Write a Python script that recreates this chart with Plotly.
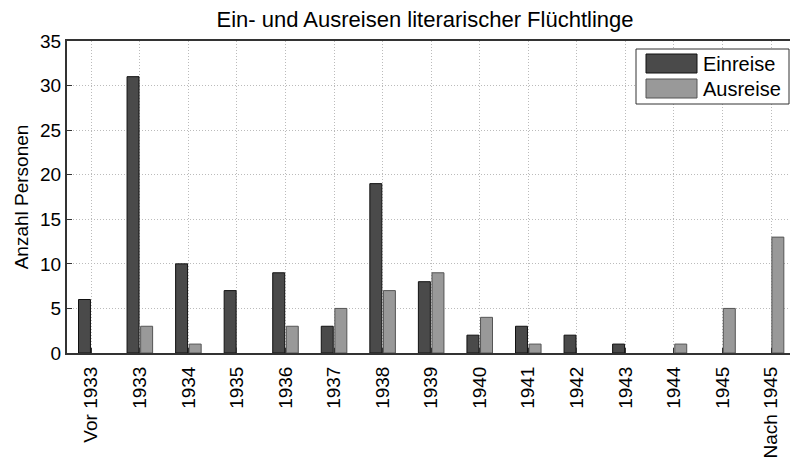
import plotly.graph_objects as go

categories = ["Vor 1933", "1933", "1934", "1935", "1936", "1937", "1938", "1939",
              "1940", "1941", "1942", "1943", "1944", "1945", "Nach 1945"]
einreise = [6, 31, 10, 7, 9, 3, 19, 8, 2, 3, 2, 1, 0, 0, 0]
ausreise = [0, 3, 1, 0, 3, 5, 7, 9, 4, 1, 0, 0, 1, 5, 13]
series_names = ["Einreise", "Ausreise"]
y_ticks = [0, 5, 10, 15, 20, 25, 30, 35]

FONT = "Liberation Sans, Arial, sans-serif"
C_EIN = "#4a4a4a"
C_AUS = "#999999"

def nz(vals):
    return [v if v else None for v in vals]

fig = go.Figure()
fig.add_trace(go.Bar(x=categories, y=nz(einreise), name=series_names[0],
                     marker=dict(color=C_EIN, line=dict(color="#111111", width=1))))
fig.add_trace(go.Bar(x=categories, y=nz(ausreise), name=series_names[1],
                     marker=dict(color=C_AUS, line=dict(color="#555555", width=1))))

fig.update_layout(
    width=790, height=460,
    margin=dict(l=67, r=0, t=41, b=107, autoexpand=False),
    paper_bgcolor="white", plot_bgcolor="white",
    barmode="group", bargap=0.44, bargroupgap=0.12,
    showlegend=False,
    font=dict(family=FONT, size=19, color="black"),
    title=dict(text="Ein- und Ausreisen literarischer Flüchtlinge",
               x=425 / 790, xanchor="center", y=1 - 19 / 460, yanchor="middle",
               font=dict(family=FONT, size=22, color="black"), automargin=False),
)

fig.update_xaxes(
    type="category", range=[-0.5, 14.39], automargin=False,
    tickangle=-90, tickfont=dict(family=FONT, size=19, color="black"),
    ticklabelstandoff=4,
    showgrid=True, gridcolor="#bbbbbb", griddash="1px,2px", gridwidth=1,
    showline=True, linecolor="#333333", linewidth=2, mirror=True,
    ticks="inside", ticklen=5, tickcolor="#333333",
)
fig.update_yaxes(
    range=[0, 35], tickvals=y_ticks, automargin=False,
    tickfont=dict(family=FONT, size=19, color="black"),
    title=dict(text="Anzahl Personen", font=dict(family=FONT, size=19, color="black"), standoff=6),
    showgrid=True, gridcolor="#bbbbbb", griddash="1px,2px", gridwidth=1,
    showline=True, linecolor="#333333", linewidth=2, mirror=True,
    ticks="inside", ticklen=5, tickcolor="#333333", zeroline=False,
)

# custom legend (MATLAB style with large swatches)
fig.add_shape(type="rect", xref="paper", yref="paper",
              x0=(636 - 67) / 723, x1=(789 - 67) / 723,
              y0=(353 - 104) / 312, y1=(353 - 49) / 312,
              line=dict(color="#333333", width=1), fillcolor="white", layer="above")
for i, (name, col, lc) in enumerate([(series_names[0], C_EIN, "#111111"),
                                      (series_names[1], C_AUS, "#555555")]):
    yt = 54 + i * 25
    fig.add_shape(type="rect", xref="paper", yref="paper",
                  x0=(646 - 67) / 723, x1=(697 - 67) / 723,
                  y0=(353 - (yt + 19)) / 312, y1=(353 - yt) / 312,
                  line=dict(color=lc, width=1), fillcolor=col, layer="above")
    fig.add_annotation(xref="paper", yref="paper",
                       x=(701 - 67) / 723, y=(353 - (yt + 10)) / 312,
                       text=name, showarrow=False, xanchor="left", yanchor="middle",
                       font=dict(family=FONT, size=20, color="black"))

fig.write_html("out.html", config={"displayModeBar": False},
               post_script="document.body.style.margin='0';document.body.style.overflow='hidden';")
